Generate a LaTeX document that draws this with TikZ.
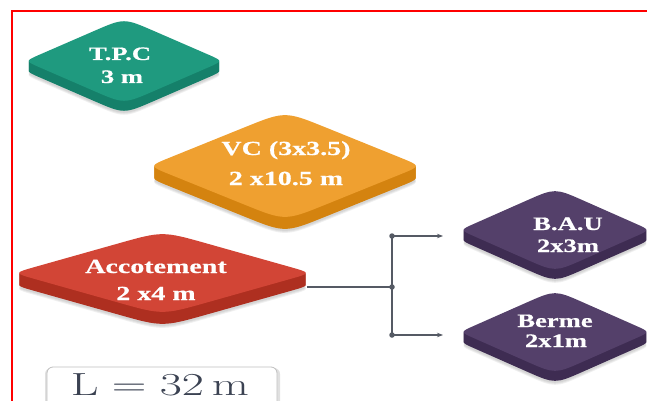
\documentclass[tikz,border=0pt]{standalone}
\usepackage{fontspec}
\usepackage{graphicx}
\usetikzlibrary{arrows.meta}
\newfontfamily\tfont{Liberation Serif}[FakeStretch=1.4,BoldFeatures={FakeBold=0.6}]
\definecolor{tpcTop}{HTML}{1F9A7F}
\definecolor{tpcSide}{HTML}{15806A}
\definecolor{vcTop}{HTML}{EFA030}
\definecolor{vcSide}{HTML}{D4830F}
\definecolor{accTop}{HTML}{D24536}
\definecolor{accSide}{HTML}{AE2F20}
\definecolor{purTop}{HTML}{54406A}
\definecolor{purSide}{HTML}{3E2C52}
\definecolor{conn}{HTML}{555A64}
\definecolor{ltxt}{HTML}{3B4252}
% rounded diamond outline, #1 cx, #2 cy, #3 half width, #4 half height, #5 y offset
\newcommand\rdpath[5]{%
  (#1-0.3*#3,#2-0.7*#4+#5)
  .. controls (#1,#2-#4+#5) .. (#1+0.3*#3,#2-0.7*#4+#5)
  -- (#1+0.85*#3,#2-0.15*#4+#5)
  .. controls (#1+#3,#2+#5) .. (#1+0.85*#3,#2+0.15*#4+#5)
  -- (#1+0.3*#3,#2+0.7*#4+#5)
  .. controls (#1,#2+#4+#5) .. (#1-0.3*#3,#2+0.7*#4+#5)
  -- (#1-0.85*#3,#2+0.15*#4+#5)
  .. controls (#1-#3,#2+#5) .. (#1-0.85*#3,#2-0.15*#4+#5)
  -- cycle}
% #1 cx, #2 cy, #3 half width, #4 half height, #5 top colour, #6 side colour, #7 thickness
\newcommand\isodia[7]{%
  \foreach \k in {4,3,2}{\fill[black,opacity=0.06] \rdpath{#1}{#2}{#3}{#4}{#7+\k};}
  \foreach \k in {1,...,#7}{\fill[#6] \rdpath{#1}{#2}{#3}{#4}{\k};}
  \fill[#5] \rdpath{#1}{#2}{#3}{#4}{0};}
\tikzset{
  lbl/.style={inner sep=0pt,anchor=base,text=white,font=\tfont\bfseries\fontsize{#1}{#1}\selectfont},
  lbl/.default=20,
  conline/.style={draw=conn,line width=1.4pt},
  dot/.style={circle,fill=conn,inner sep=0pt,minimum size=5.5pt},
}
\begin{document}
\begin{tikzpicture}[x=1pt,y=-1pt]
\useasboundingbox (0,0) rectangle (647,401);
\begin{scope}
\clip (0,0) rectangle (647,401);
% border
\draw[red,line width=2pt] (647,11) -- (12,11) -- (12,402);
% diamonds
\isodia{124}{61}{99}{43}{tpcTop}{tpcSide}{10}
\isodia{285}{166}{136}{55}{vcTop}{vcSide}{12}
\isodia{162.5}{273}{149}{42}{accTop}{accSide}{12}
\isodia{555}{230}{95}{42}{purTop}{purSide}{10}
\isodia{555}{332}{95}{42}{purTop}{purSide}{10}
% texts
\node[lbl=19] (tpc) at (120,60) {T.P.C};
\node[lbl=19] (tpc2) at (122,83) {3 m};
\node[lbl=20] (vc) at (286,155) {VC (3x3.5)};
\node[lbl=20] (vc2) at (286,185) {2 x10.5 m};
\node[lbl=20] (acc) at (156,273) {Accotement};
\node[lbl=20] (acc2) at (156,300) {2 x4 m};
\node[lbl=19] (bau) at (568,230) {B.A.U};
\node[lbl=19] (bau2) at (568,252) {2x3m};
\node[lbl=19] (berme) at (555,327) {Berme};
\node[lbl=19] (berme2) at (556,347) {2x1m};
% connectors
\coordinate (acc-out) at (307,287);
\node[dot] (junc) at (392,287) {};
\node[dot] (junc-top) at (392,236) {};
\node[dot] (junc-bot) at (392,335) {};
\coordinate (bau-in) at (443,236);
\coordinate (berme-in) at (443,335);
\draw[conline] (acc-out) -- (junc.center);
\draw[conline] (junc-top.center) -- (junc-bot.center);
\draw[conline,-{Stealth[length=6pt,width=4.5pt]}] (junc-top.center) -- (bau-in);
\draw[conline,-{Stealth[length=6pt,width=4.5pt]}] (junc-bot.center) -- (berme-in);
% L box
\fill[black,opacity=0.12,rounded corners=6pt] (45,368) rectangle (280,412);
\draw[draw=black!25,fill=white,rounded corners=6pt,line width=0.8pt] (47,367) rectangle (277,412);
\node[inner sep=0pt,anchor=base,text=ltxt] (len) at (160,395)
   {\scalebox{1.5}[1]{\fontsize{32}{32}\selectfont L\hspace{0.278em}=\hspace{0.278em}32\hspace{0.167em}m}};
\end{scope}
\end{tikzpicture}
\end{document}
